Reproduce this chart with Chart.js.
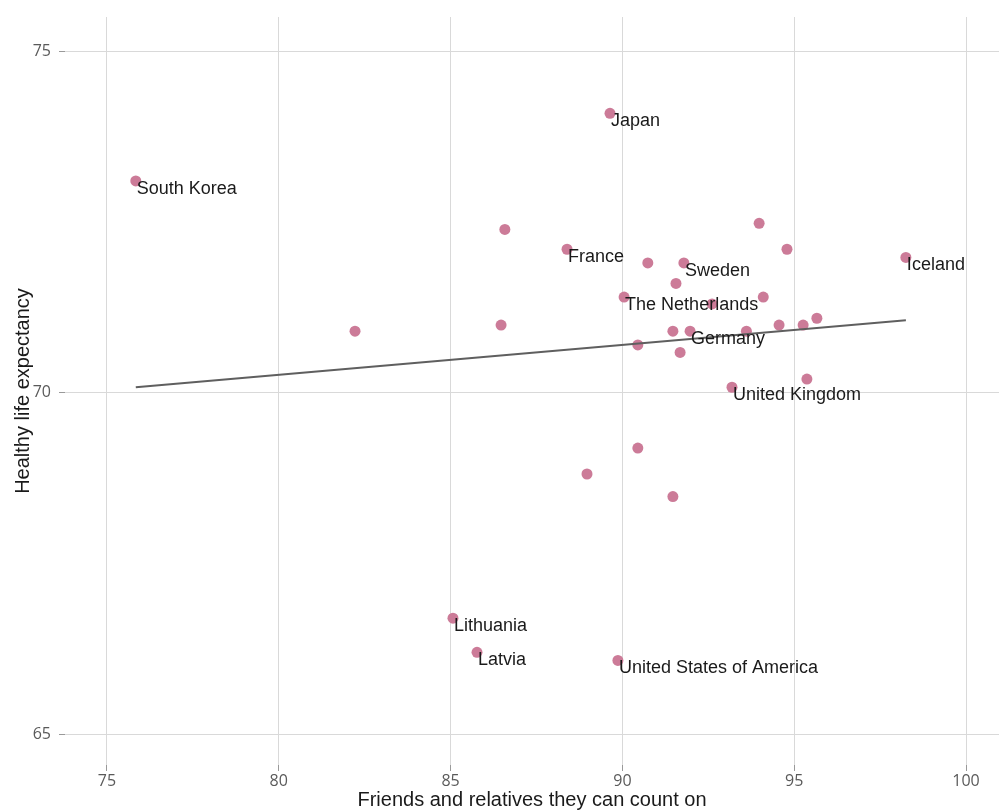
<!DOCTYPE html>
<html lang="en">
<head>
    <meta charset="UTF-8">
    <title>Friends and relatives vs healthy life expectancy</title>
    <style>
        body { margin: 0; background: #fff; }
        canvas { display: block; }
    </style>
    <script src="https://cdn.jsdelivr.net/npm/chart.js@4.4.1/dist/chart.umd.min.js"></script>
</head>
<body>
    <canvas id="chart" width="999" height="812"></canvas>

    <script>
        // one entry per country; empty name = no label drawn
        const countries = [
            'South Korea', 'Japan', 'France', '', '', '', '', 'Sweden', '', '', '', 'Iceland',
            'The Netherlands', '', '', '', 'Germany', '', '', '', '', '', '',
            'United Kingdom', '', '', '', '', 'Lithuania', 'Latvia', 'United States of America'
        ];
        const friends = [
            75.84, 89.64, 88.39, 86.58, 82.22, 86.47, 90.74, 91.79, 91.56, 93.98, 94.79, 98.25,
            90.05, 92.61, 94.10, 91.47, 91.97, 90.45, 91.68, 93.61, 94.56, 95.26, 95.66,
            93.19, 95.37, 90.45, 88.97, 91.47, 85.07, 85.77, 89.87
        ];
        const lifeExp = [
            73.10, 74.09, 72.10, 72.39, 70.90, 70.99, 71.90, 71.90, 71.60, 72.48, 72.10, 71.98,
            71.40, 71.30, 71.40, 70.90, 70.90, 70.70, 70.59, 70.90, 70.99, 70.99, 71.09,
            70.08, 70.20, 69.19, 68.81, 68.48, 66.70, 66.20, 66.08
        ];
        // linear fit, end points
        const trendX = [75.84, 98.25];
        const trendY = [70.08, 71.06];

        const xTicks = [75, 80, 85, 90, 95, 100];
        const yTicks = [65, 70, 75];

        const labelPlugin = {
            id: 'pointLabels',
            afterDatasetsDraw(chart) {
                const ctx = chart.ctx;
                const meta = chart.getDatasetMeta(1);
                ctx.save();
                ctx.font = '18px "Liberation Sans", Arial, sans-serif';
                ctx.fillStyle = '#1a1a1a';
                ctx.textAlign = 'left';
                ctx.textBaseline = 'middle';
                meta.data.forEach((pt, i) => {
                    if (!countries[i]) return;
                    ctx.fillText(countries[i], pt.x + 1, pt.y + 8);
                });
                ctx.restore();
            }
        };

        const axisFont = { family: '"Open Sans", sans-serif', size: 16 };
        const titleFont = { family: '"Liberation Sans", Arial, sans-serif', size: 20 };

        new Chart(document.getElementById('chart'), {
            type: 'scatter',
            data: {
                datasets: [
                    {
                        type: 'line',
                        data: trendX.map((x, i) => ({ x: x, y: trendY[i] })),
                        borderColor: '#5f5f5f',
                        borderWidth: 2,
                        pointRadius: 0,
                        fill: false,
                        order: 0
                    },
                    {
                        data: friends.map((x, i) => ({ x: x, y: lifeExp[i] })),
                        backgroundColor: '#cc7b98',
                        borderWidth: 0,
                        pointRadius: 5.5,
                        order: 1
                    }
                ]
            },
            options: {
                responsive: false,
                animation: false,
                layout: { autoPadding: false, padding: { top: 17, right: 0, left: 0, bottom: 0 } },
                plugins: {
                    legend: { display: false },
                    tooltip: { enabled: false }
                },
                scales: {
                    x: {
                        type: 'linear',
                        min: 73.78,
                        max: 100.96,
                        afterBuildTicks: s => { s.ticks = xTicks.map(v => ({ value: v })); },
                        afterFit: s => { s.height = 47; s.paddingLeft = 0; s.paddingRight = 0; },
                        border: { display: false },
                        grid: { color: '#d9d9d9', lineWidth: 1, tickLength: 6, tickColor: '#999' },
                        ticks: { color: '#5a5a5a', font: axisFont, padding: 1, maxRotation: 0 },
                        title: {
                            display: true,
                            text: 'Friends and relatives they can count on',
                            color: '#1a1a1a',
                            font: titleFont,
                            padding: { top: 0, bottom: 0 }
                        }
                    },
                    y: {
                        type: 'linear',
                        min: 64.55,
                        max: 75.5,
                        afterBuildTicks: s => { s.ticks = yTicks.map(v => ({ value: v })); },
                        afterFit: s => { s.width = 65; s.paddingTop = 0; s.paddingBottom = 0; },
                        border: { display: false },
                        grid: { color: '#d9d9d9', lineWidth: 1, tickLength: 6, tickColor: '#999' },
                        ticks: { color: '#5a5a5a', font: axisFont, padding: 8 },
                        title: {
                            display: true,
                            text: 'Healthy life expectancy',
                            color: '#1a1a1a',
                            font: titleFont,
                            padding: { top: 11, bottom: 0 }
                        }
                    }
                }
            },
            plugins: [labelPlugin]
        });
    </script>
</body>
</html>
